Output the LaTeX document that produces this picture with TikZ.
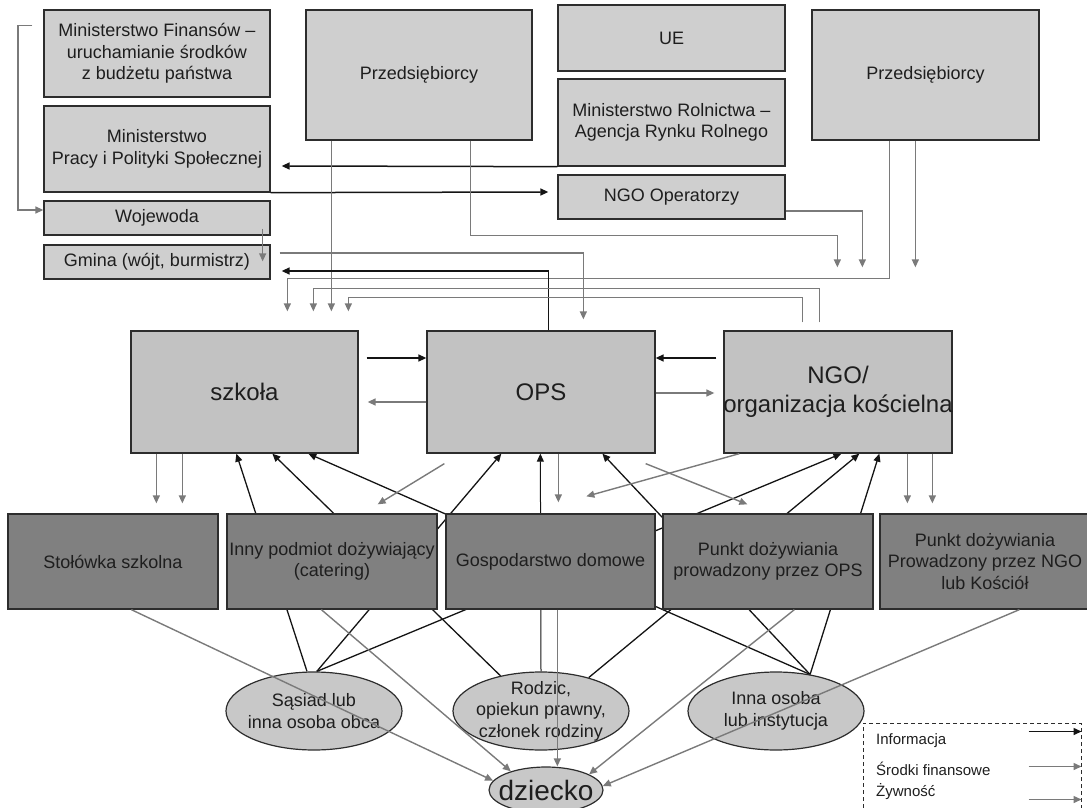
\documentclass[tikz,border=0pt]{standalone}
\usepackage{fontspec}
\setmainfont{Liberation Sans}
\usetikzlibrary{arrows.meta,shapes.geometric,calc,backgrounds}
\definecolor{topfill}{RGB}{207,207,207}
\definecolor{midfill}{RGB}{194,194,194}
\definecolor{lowfill}{RGB}{128,128,128}
\definecolor{ellfill}{RGB}{200,200,200}
\definecolor{finc}{RGB}{122,122,122}
\definecolor{infoc}{RGB}{20,20,20}
\definecolor{edge}{RGB}{45,45,45}
\definecolor{txt}{RGB}{30,30,30}
\begin{document}
\begin{tikzpicture}[x=1pt,y=-1pt,
  box/.style={draw=edge, line width=1.3pt, inner sep=0pt, align=center, text=txt, font=\fontsize{18}{21.5}\selectfont},
  topbox/.style={box, fill=topfill},
  midbox/.style={box, fill=midfill, font=\fontsize{24}{29}\selectfont},
  lowbox/.style={box, fill=lowfill, minimum width=210pt, minimum height=95pt},
  ell/.style={ellipse, draw=edge, line width=1.2pt, fill=ellfill, inner sep=0pt},
  lbl/.style={align=center, text=txt, inner sep=0pt, font=\fontsize{18}{21.5}\selectfont},
  legtxt/.style={anchor=west, text=txt, inner sep=0pt, font=\fontsize{15}{17}\selectfont},
  fin/.style={draw=finc, line width=1.4pt, -{Triangle[length=8pt,width=7pt]}},
  info/.style={draw=infoc, line width=1.5pt, -{Triangle[length=8pt,width=7pt]}},
  info2/.style={draw=infoc, line width=1.3pt, -{Triangle[length=8pt,width=7pt]}},
]
\useasboundingbox (0,0) rectangle (1087,808);

% ---------- top row ----------
\node[topbox, minimum width=226pt, minimum height=87pt] (minfin) at (157,53.5) {Ministerstwo Finansów –\\uruchamianie środków\\z budżetu państwa};
\node[topbox, minimum width=226pt, minimum height=86pt] (mpips) at (157,149) {Ministerstwo\\Pracy i Polityki Społecznej};
\node[topbox, minimum width=226pt, minimum height=34pt] (woj) at (157,218) {Wojewoda};
\node[topbox, minimum width=226pt, minimum height=34pt] (gmina) at (157,262) {Gmina (wójt, burmistrz)};
\node[topbox, minimum width=226pt, minimum height=130pt] (przed1) at (419,75) {Przedsiębiorcy};
\node[topbox, minimum width=227pt, minimum height=66pt] (ue) at (671.5,38) {UE};
\node[topbox, minimum width=227pt, minimum height=87pt] (minrol) at (671.5,122.5) {Ministerstwo Rolnictwa –\\Agencja Rynku Rolnego};
\node[topbox, minimum width=227pt, minimum height=44pt] (ngoop) at (671.5,197) {NGO Operatorzy};
\node[topbox, minimum width=227pt, minimum height=130pt] (przed2) at (925.5,75) {Przedsiębiorcy};

% ---------- middle row ----------
\node[midbox, minimum width=227pt, minimum height=122pt] (szkola) at (244.5,392) {szkoła};
\node[midbox, minimum width=228pt, minimum height=122pt] (ops) at (541,392) {OPS};
\node[midbox, minimum width=228pt, minimum height=122pt] (ngo) at (838,392) {NGO/\\\makebox[0pt]{organizacja kościelna}};

% ---------- bottom row ----------
\node[lowbox] (stol) at (113,561.5) {Stołówka szkolna};
\node[lowbox] (inny) at (332,561.5) {\makebox[0pt]{Inny podmiot dożywiający}\\(catering)};
\node[lowbox, minimum width=209pt] (gosp) at (550.5,561.5) {Gospodarstwo domowe};
\node[lowbox] (pops) at (768,561.5) {Punkt dożywiania\\prowadzony przez OPS};
\node[lowbox] (pngo) at (985,561.5) {Punkt dożywiania\\Prowadzony przez NGO\\lub Kościół};

% ---------- ellipses ----------
\node[ell, minimum width=176pt, minimum height=78pt] (sasiad) at (314,711) {};
\node[lbl] (sasiadT) at (sasiad) {Sąsiad lub\\inna osoba obca};
\node[ell, minimum width=176pt, minimum height=78pt] (rodzic) at (541,711) {};
\node[lbl] (rodzicT) at (rodzic) {Rodzic,\\opiekun prawny,\\członek rodziny};
\node[ell, minimum width=176pt, minimum height=78pt] (inna) at (776,711) {};
\node[lbl] (innaT) at (inna) {Inna osoba\\lub instytucja};
\node[ell, minimum width=114pt, minimum height=46pt] (dziecko) at (546,790) {};
\node[lbl, font=\fontsize{28}{30}\selectfont] (dzieckoT) at (dziecko) {dziecko};

% ---------- legend ----------
\node[draw=edge, line width=1pt, dash pattern=on 4pt off 3pt, minimum width=218pt, minimum height=92pt, inner sep=0pt] (legend) at (972,769) {};
\node[legtxt] (lgI) at (876,741) {Informacja};
\node[legtxt] (lgF) at (876,769) {Środki finansowe};
\node[legtxt] (lgZ) at (876,792) {Żywność};
\draw[info] ($(legend.north east)+(-53,9)$) -- ($(legend.north east)+(0,9)$);
\draw[fin] ($(legend.north east)+(-53,44)$) -- ($(legend.north east)+(0,44)$);
\draw[fin] ($(legend.north east)+(-53,77)$) -- ($(legend.north east)+(0,77)$);

% ---------- top connectors ----------
\draw[fin] ($(minfin.north west)+(-11,16)$) -| (18,210) -- ($(woj.west)+(0,-8)$);
\draw[fin] ($(woj.south east)+(-8,-7)$) -- ($(gmina.north east)+(-8,17)$);
\draw[info] (minrol.south west) -- ($(mpips.east)+(11,17)$);
\draw[info] (mpips.south east) -- ($(ngoop.west)+(-9,-5)$);
\draw[fin] ($(przed1.south west)+(26,0)$) -- ($(szkola.north west)+(201,-19)$);
\draw[fin] ($(przed1.south west)+(165,0)$) |- ($(ngo.north west)+(114,-95)$) -- ($(ngo.north west)+(114,-63)$);
\draw[fin] ($(ngoop.east)+(0,14)$) -| ($(ngo.north west)+(139,-63)$);
\draw[fin] ($(przed2.south west)+(104,0)$) -- ($(ngo.north west)+(192,-63)$);
\draw[fin] ($(przed2.south west)+(78,0)$) |- ($(szkola.north west)+(157,-52)$) -- ($(szkola.north west)+(157,-19)$);
\draw[fin] ($(gmina.east)+(9,-9)$) -| ($(ops.north west)+(157,-11)$);
\draw[info] ($(ops.north west)+(122,0)$) |- ($(gmina.east)+(11,9)$);
\draw[fin] ($(ngo.north west)+(96,-8)$) |- ($(szkola.north west)+(183,-42)$) -- ($(szkola.north west)+(183,-19)$);
\draw[fin] ($(ngo.north west)+(79,-8)$) |- ($(szkola.north west)+(218,-33)$) -- ($(szkola.north west)+(218,-19)$);

% ---------- middle connectors ----------
\draw[info] ($(szkola.east)+(8,-34)$) -- ($(ops.west)+(0,-34)$);
\draw[fin] ($(ops.west)+(0,10)$) -- ($(szkola.east)+(9,10)$);
\draw[info] ($(ngo.west)+(-7,-34)$) -- ($(ops.east)+(0,-34)$);
\draw[fin] ($(ops.east)+(0,1)$) -- ($(ngo.west)+(-9,1)$);

\draw[fin] ($(szkola.south west)+(26,0)$) -- ($(stol.north west)+(149,-10)$);
\draw[fin] ($(szkola.south west)+(52,0)$) -- ($(stol.north west)+(175,-10)$);
\draw[fin] ($(ngo.south west)+(184,0)$) -- ($(pngo.north west)+(28,-10)$);
\draw[fin] ($(ngo.south west)+(209,0)$) -- ($(pngo.north west)+(53,-10)$);
\draw[fin] ($(ops.south west)+(18,10)$) -- ($(inny.north east)+(-60,-9)$);
\draw[fin] ($(ngo.south west)+(16,0)$) -- ($(gosp.north west)+(141,-17)$);
\draw[fin] ($(ops.south east)+(-10,10)$) -- ($(pops.north west)+(85,-9)$);
\draw[fin] ($(ops.south west)+(132,0)$) -- ($(gosp.north west)+(113,-11)$);

% ---------- information lines behind the bottom row ----------
\begin{pgfonlayer}{background}
\draw[info2] (sasiad.100) -- ($(szkola.south west)+(106,0)$);
\draw[info2] (rodzic.139) -- ($(szkola.south west)+(142,0)$);
\draw[info2] (inna.47) -- ($(szkola.south west)+(178,0)$);
\draw[info2] (sasiad.86) -- ($(ops.south west)+(75,0)$);
\draw[info2, line width=1pt] (rodzic.north) -- ($(ops.south west)+(114,0)$);
\draw[info2] (inna.47) -- ($(ops.south west)+(176,0)$);
\draw[info2] (sasiad.86) -- ($(ngo.south west)+(118,0)$);
\draw[info2] (rodzic.35) -- ($(ngo.south west)+(136,0)$);
\draw[info2] (inna.47) -- ($(ngo.south west)+(156,0)$);
\end{pgfonlayer}

% ---------- food to the child ----------
\coordinate (g1) at ($(gosp.south west)+(112,0)$);
\draw[fin] ($(stol.south west)+(124,0)$) -- (dziecko.170);
\draw[fin] ($(inny.south west)+(95,0)$) -- (dziecko.152);
\draw[fin] (g1) -- (g1 |- dziecko.north);
\draw[fin] ($(pops.south west)+(132,0)$) -- (dziecko.20);
\draw[fin] ($(pngo.south west)+(140,0)$) -- (dziecko.4);
\end{tikzpicture}
\end{document}
